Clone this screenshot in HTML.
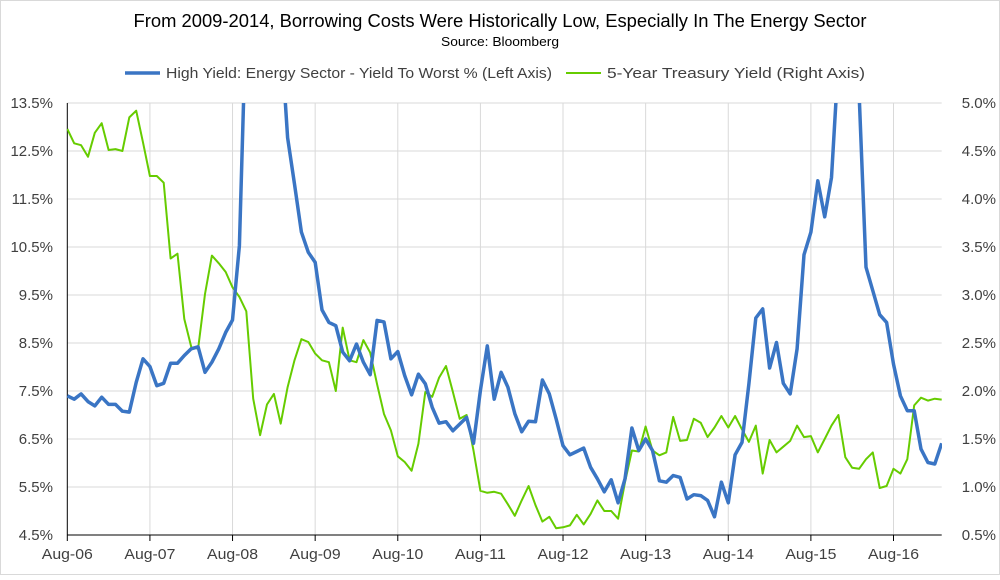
<!DOCTYPE html>
<html><head><meta charset="utf-8"><style>
body{margin:0;background:#fff;}
svg{font-family:"Liberation Sans",sans-serif;}
</style></head><body>
<svg id="chart" width="1000" height="575" viewBox="0 0 1000 575" xmlns="http://www.w3.org/2000/svg">
<rect x="0.5" y="0.5" width="999" height="574" fill="#fff" stroke="#d9d9d9"/>
<text x="500" y="27" text-anchor="middle" font-size="18" textLength="733" lengthAdjust="spacingAndGlyphs" fill="#000">From 2009-2014, Borrowing Costs Were Historically Low, Especially In The Energy Sector</text>
<text x="500" y="46" text-anchor="middle" font-size="13" textLength="118" lengthAdjust="spacingAndGlyphs" fill="#000">Source: Bloomberg</text>
<g>
<g>
<line x1="125" y1="73" x2="160" y2="73" stroke="#3a75c4" stroke-width="3.5"/>
<text x="166" y="78" font-size="15" textLength="386" lengthAdjust="spacingAndGlyphs" fill="#404040">High Yield: Energy Sector - Yield To Worst % (Left Axis)</text></g>
<g>
<line x1="566" y1="73" x2="601" y2="73" stroke="#66cc00" stroke-width="2"/>
<text x="607" y="78" font-size="15" textLength="258" lengthAdjust="spacingAndGlyphs" fill="#404040">5-Year Treasury Yield (Right Axis)</text></g>
</g>
<defs><clipPath id="plotclip"><rect x="67" y="103" width="875" height="432"/></clipPath></defs>
<g id="grid"></g>
<g id="axes"></g>
<g id="series" clip-path="url(#plotclip)"></g>
</svg>
<script>
const xLabels=["Aug-06","Aug-07","Aug-08","Aug-09","Aug-10","Aug-11","Aug-12","Aug-13","Aug-14","Aug-15","Aug-16"];
const leftTicks=[4.5,5.5,6.5,7.5,8.5,9.5,10.5,11.5,12.5,13.5];
const rightTicks=[0.5,1.0,1.5,2.0,2.5,3.0,3.5,4.0,4.5,5.0];
const highYield=[7.40,7.33,7.44,7.28,7.19,7.37,7.22,7.22,7.08,7.06,7.68,8.17,8.01,7.61,7.66,8.08,8.08,8.24,8.38,8.42,7.89,8.10,8.38,8.72,8.98,10.53,15.5,19,22,21,18,15,12.78,11.81,10.81,10.39,10.18,9.19,8.93,8.86,8.31,8.13,8.48,8.10,7.84,8.97,8.94,8.17,8.32,7.82,7.42,7.85,7.65,7.16,6.83,6.86,6.67,6.81,6.95,6.41,7.51,8.44,7.33,7.89,7.58,7.03,6.65,6.87,6.86,7.73,7.44,6.92,6.36,6.17,6.24,6.31,5.91,5.67,5.40,5.65,5.17,5.67,6.73,6.26,6.50,6.26,5.63,5.60,5.74,5.70,5.25,5.34,5.32,5.22,4.88,5.60,5.17,6.17,6.43,7.65,9.02,9.21,7.98,8.51,7.66,7.44,8.38,10.34,10.81,11.88,11.13,11.95,14.4,16.5,16,13.7,10.08,9.59,9.09,8.93,8.06,7.40,7.09,7.09,6.29,6.01,5.98,6.41];
const treasury=[4.73,4.58,4.56,4.44,4.69,4.79,4.51,4.52,4.50,4.85,4.92,4.59,4.24,4.24,4.17,3.38,3.43,2.75,2.46,2.44,3.01,3.41,3.33,3.24,3.08,2.98,2.83,1.92,1.54,1.86,1.97,1.66,2.04,2.32,2.54,2.51,2.39,2.32,2.30,2.00,2.66,2.32,2.30,2.53,2.40,2.07,1.76,1.59,1.32,1.26,1.17,1.45,1.99,1.94,2.14,2.26,1.99,1.71,1.75,1.38,0.96,0.94,0.95,0.93,0.82,0.70,0.86,1.01,0.81,0.64,0.69,0.57,0.58,0.60,0.71,0.61,0.72,0.86,0.75,0.75,0.67,1.05,1.38,1.37,1.63,1.38,1.33,1.36,1.73,1.48,1.49,1.71,1.67,1.52,1.62,1.74,1.62,1.74,1.60,1.47,1.64,1.14,1.49,1.36,1.42,1.48,1.64,1.52,1.53,1.36,1.50,1.64,1.75,1.31,1.20,1.19,1.29,1.36,0.99,1.01,1.19,1.14,1.29,1.85,1.93,1.90,1.92,1.91];
const X0=67.3,X1=941.7,YT=103,YB=535;
const nMonths=highYield.length;
const step=(X1-X0)/(nMonths-1);
function xPos(i){return X0+i*step;}
function yLeft(v){return YB-(v-4.5)/9*(YB-YT);}
function yRight(v){return YB-(v-0.5)/4.5*(YB-YT);}
const NS="http://www.w3.org/2000/svg";
function mk(tag,attrs,parent){const e=document.createElementNS(NS,tag);for(const k in attrs)e.setAttribute(k,attrs[k]);parent.appendChild(e);return e;}
const grid=document.getElementById('grid'),axes=document.getElementById('axes'),series=document.getElementById('series');
leftTicks.forEach((t,k)=>{const y=yLeft(t);
 const g=mk('line',{x1:X0,x2:X1,y1:y,y2:y,stroke:'#d9d9d9','stroke-width':1},grid);
 
 
 const lt=mk('text',{x:53,y:y+5,'text-anchor':'end','font-size':15,fill:'#404040'},axes);lt.textContent=t.toFixed(1)+'%';
 
 
 const rt=mk('text',{x:996,y:yRight(rightTicks[k])+5,'text-anchor':'end','font-size':15,fill:'#404040'},axes);rt.textContent=rightTicks[k].toFixed(1)+'%';
 
 
});
xLabels.forEach((l,k)=>{const x=xPos(k*12);
 if(k>0){const g=mk('line',{x1:x,x2:x,y1:YT,y2:YB,stroke:'#d9d9d9','stroke-width':1},grid);
 
 }
 const tk=mk('line',{x1:x,x2:x,y1:YB,y2:YB+6,stroke:'#000','stroke-width':1},axes);
 
 
 const t=mk('text',{x:x,y:YB+24,'text-anchor':'middle','font-size':15,textLength:51,lengthAdjust:'spacingAndGlyphs',fill:'#404040'},axes);t.textContent=l;
 
 
});
const ya=mk('line',{x1:X0,x2:X0,y1:YT,y2:YB,stroke:'#000','stroke-width':1},axes);


const xa=mk('line',{x1:X0,x2:X1,y1:YB,y2:YB,stroke:'#000','stroke-width':1},axes);


const gp=mk('polyline',{points:treasury.map((v,i)=>xPos(i).toFixed(1)+','+yRight(v).toFixed(1)).join(' '),fill:'none',stroke:'#66cc00','stroke-width':2,'stroke-linejoin':'round'},series);


const bp=mk('polyline',{points:highYield.map((v,i)=>xPos(i).toFixed(1)+','+yLeft(v).toFixed(1)).join(' '),fill:'none',stroke:'#3a75c4','stroke-width':3.5,'stroke-linejoin':'round'},series);


</script>
</body></html>
